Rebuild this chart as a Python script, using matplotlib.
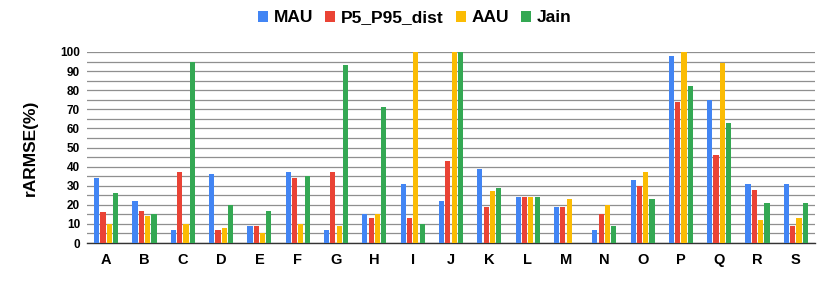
import numpy as np
import matplotlib
matplotlib.use("Agg")
import matplotlib.pyplot as plt
from matplotlib.patches import Patch

plt.rcParams['font.family'] = ['Liberation Sans', 'DejaVu Sans']

# data
categories = list("ABCDEFGHIJKLMNOPQRS")
mau = [34, 22, 7, 36, 9, 37, 7, 15, 31, 22, 39, 24, 19, 7, 33, 98, 75, 31, 31]
p5_p95 = [16, 17, 37, 7, 9, 34, 37, 13, 13, 43, 19, 24, 19, 15, 30, 74, 46, 28, 9]
aau = [10, 14, 10, 8, 5, 10, 9, 15, 100, 100, 27, 24, 23, 20, 37, 100, 94, 12, 13]
jain = [26, 15, 95, 20, 17, 35, 93, 71, 10, 100, 29, 24, 0, 9, 23, 82, 63, 21, 21]

series = [("MAU", mau, "#4285F4"),
          ("P5_P95_dist", p5_p95, "#EA4335"),
          ("AAU", aau, "#FBBC04"),
          ("Jain", jain, "#34A853")]

fig = plt.figure(figsize=(8.3, 2.82), dpi=100)
ax = fig.add_axes([87 / 830, 1 - 243 / 282, 728 / 830, 191 / 282])

x = np.arange(len(categories))
step = 0.165
width = 0.135
for i, (name, vals, color) in enumerate(series):
    ax.bar(x + (i - 1.5) * step, vals, width=width, color=color, zorder=3)

ax.set_xlim(-0.5, len(categories) - 0.5)
ax.set_ylim(0, 100)
ax.set_yticks(np.arange(0, 101, 10))
ax.set_yticks(np.arange(0, 101, 5), minor=True)
ax.grid(axis='y', which='both', color='#8f8f8f', linewidth=0.9, zorder=0)
ax.set_xticks(x)
ax.set_xticklabels(categories, fontsize=10.5, fontweight='bold')
for lbl in ax.get_yticklabels():
    lbl.set_fontweight('bold')
ax.tick_params(axis='y', labelsize=8.5, length=0, pad=5)
ax.tick_params(axis='y', which='minor', length=0)
ax.tick_params(axis='x', length=0, pad=7)
for side in ['top', 'right', 'left']:
    ax.spines[side].set_visible(False)
ax.spines['bottom'].set_color('#333333')
ax.spines['bottom'].set_linewidth(1.0)

ax.set_ylabel('rARMSE(%)', fontsize=12.5, fontweight='bold', labelpad=16)

handles = [Patch(facecolor=c, label=n) for n, _, c in series]
fig.legend(handles=handles, loc='center', bbox_to_anchor=(0.5, 1 - 18 / 282), ncol=4,
           frameon=False, handlelength=0.55, handleheight=0.55, handletextpad=0.35,
           columnspacing=0.7, prop={'weight': 'bold', 'size': 12.5})

fig.savefig('out.png', dpi=100)
